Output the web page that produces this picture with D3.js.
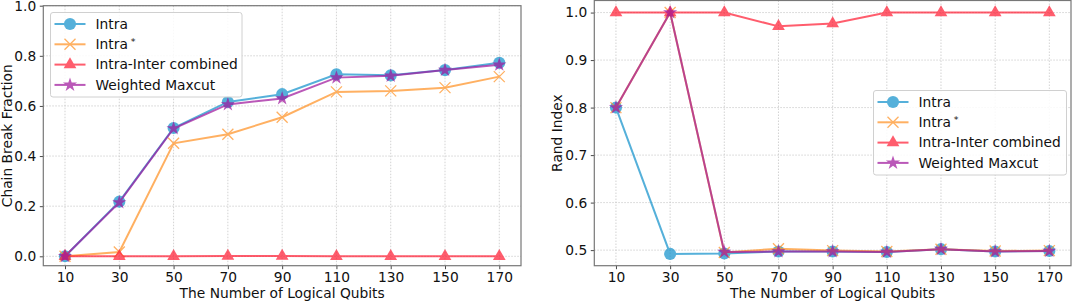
<!DOCTYPE html>
<html>
<head>
<meta charset="utf-8">
<script src="https://cdn.jsdelivr.net/npm/d3@7"></script>
<style>
  body { margin: 0; background: #fff; }
  text { font-family: "DejaVu Sans", sans-serif; }
</style>
</head>
<body>
<div id="chart"></div>
<script>
// Data
const qubits = [10, 30, 50, 70, 90, 110, 130, 150, 170]
const xTicks = [10, 30, 50, 70, 90, 110, 130, 150, 170]

// chain break fraction
const cbIntra = [0, 0.218, 0.512, 0.616, 0.647, 0.726, 0.722, 0.743, 0.772]
const cbIntraStar = [0, 0.017, 0.451, 0.487, 0.555, 0.656, 0.660, 0.673, 0.717]
const cbCombined = [0, 0, 0, 0.001, 0.001, 0, 0, 0, 0]
const cbMaxcut = [0, 0.215, 0.510, 0.606, 0.630, 0.713, 0.720, 0.743, 0.764]

// rand index
const riIntra = [0.8, 0.492, 0.493, 0.497, 0.497, 0.496, 0.502, 0.497, 0.498]
const riIntraStar = [0.8, 1.0, 0.495, 0.503, 0.499, 0.497, 0.502, 0.498, 0.499]
const riCombined = [1.0, 1.0, 1.0, 0.971, 0.977, 1.0, 1.0, 1.0, 1.0]
const riMaxcut = [0.8, 1.0, 0.496, 0.497, 0.497, 0.496, 0.502, 0.497, 0.498]

const cbTicks = [0.0, 0.2, 0.4, 0.6, 0.8, 1.0]
const riTicks = [0.5, 0.6, 0.7, 0.8, 0.9, 1.0]

const seriesNames = ['Intra', 'Intra*', 'Intra-Inter combined', 'Weighted Maxcut']
const seriesColors = ['#1593cc', '#ff9326', '#ff1f35', '#a0189e']
const seriesMarkers = ['circle', 'x', 'triangle', 'star']

function draw() {
  const width = 1072, height = 301
  const svg = d3.select('#chart').append('svg')
    .attr('width', width)
    .attr('height', height)

  const markerPath = {
    circle: d3.symbol(d3.symbolCircle, 115)(),
    triangle: d3.symbol(d3.symbolTriangle, 70)(),
    star: d3.symbol(d3.symbolStar, 62)(),
    x: 'M-5.5,-5.5L5.5,5.5M-5.5,5.5L5.5,-5.5'
  }

  function drawMarker(g, type, color) {
    const p = g.append('path').attr('d', markerPath[type])
    if (type === 'x') {
      p.attr('fill', 'none').attr('stroke', color).attr('stroke-width', 1.3)
    } else {
      p.attr('fill', color)
    }
    return p
  }

  function panel(opts) {
    const x = d3.scaleLinear().domain([2, 178]).range([opts.left, opts.right])
    const y = d3.scaleLinear().domain(opts.yDomain).range([opts.bottom, opts.top])
    const g = svg.append('g')

    // grid
    g.append('g').selectAll('line.vg').data(xTicks).join('line')
      .attr('x1', d => x(d)).attr('x2', d => x(d))
      .attr('y1', opts.top).attr('y2', opts.bottom)
      .attr('stroke', '#c8c8c8').attr('stroke-width', 0.8)
      .attr('stroke-dasharray', '1.5,1.5')
    g.append('g').selectAll('line.hg').data(opts.yTicks).join('line')
      .attr('x1', opts.left).attr('x2', opts.right)
      .attr('y1', d => y(d)).attr('y2', d => y(d))
      .attr('stroke', '#c8c8c8').attr('stroke-width', 0.8)
      .attr('stroke-dasharray', '1.5,1.5')

    // series
    const line = d3.line().x((d, i) => x(qubits[i])).y(d => y(d))
    opts.series.forEach((vals, si) => {
      const sg = g.append('g').attr('opacity', 0.72)
      sg.append('path').datum(vals)
        .attr('d', line)
        .attr('fill', 'none')
        .attr('stroke', seriesColors[si])
        .attr('stroke-width', 2)
      vals.forEach((v, i) => {
        drawMarker(sg, seriesMarkers[si], seriesColors[si])
          .attr('transform', `translate(${x(qubits[i])},${y(v)})`)
      })
    })

    // axes
    const xAxis = g.append('g')
      .attr('transform', `translate(0,${opts.bottom})`)
      .call(d3.axisBottom(x).tickValues(xTicks).tickSize(3.5).tickPadding(3.5))
    const yAxis = g.append('g')
      .attr('transform', `translate(${opts.left},0)`)
      .call(d3.axisLeft(y).tickValues(opts.yTicks).tickFormat(d3.format('.1f')).tickSize(3.5).tickPadding(3.5))
    ;[xAxis, yAxis].forEach(a => {
      a.select('.domain').remove()
      a.selectAll('.tick line').attr('stroke', '#333').attr('stroke-width', 0.9)
      a.selectAll('.tick text')
        .attr('font-family', '"DejaVu Sans", sans-serif')
        .attr('font-size', 13.8)
        .attr('fill', '#111')
    })

    // spines
    g.append('rect')
      .attr('x', opts.left).attr('y', opts.top)
      .attr('width', opts.right - opts.left)
      .attr('height', opts.bottom - opts.top)
      .attr('fill', 'none').attr('stroke', '#777').attr('stroke-width', 1.2)

    // labels
    g.append('text')
      .attr('x', (opts.left + opts.right) / 2).attr('y', 298)
      .attr('text-anchor', 'middle')
      .attr('font-size', 13.8).attr('fill', '#111')
      .text('The Number of Logical Qubits')
    g.append('text')
      .attr('transform', `translate(${opts.yLabelX},${(opts.top + opts.bottom) / 2}) rotate(-90)`)
      .attr('text-anchor', 'middle')
      .attr('dy', '0.35em')
      .attr('font-size', 13.8).attr('fill', '#111')
      .text(opts.yLabel)

    // legend
    const lg = g.append('g').attr('transform', `translate(${opts.legend[0]},${opts.legend[1]})`)
    lg.append('rect')
      .attr('width', opts.legend[2]).attr('height', 84.5)
      .attr('rx', 2.5)
      .attr('fill', '#fff').attr('fill-opacity', 0.85)
      .attr('stroke', '#d0d0d0').attr('stroke-width', 1)
    seriesNames.forEach((name, i) => {
      const row = lg.append('g').attr('transform', `translate(0,${11.5 + i * 20.3})`)
      const hg = row.append('g').attr('opacity', 0.72)
      hg.append('line').attr('x1', 4).attr('x2', 35)
        .attr('stroke', seriesColors[i]).attr('stroke-width', 2)
      drawMarker(hg, seriesMarkers[i], seriesColors[i]).attr('transform', 'translate(19.5,0)')
      const t = row.append('text').attr('x', 45).attr('dy', '0.35em')
        .attr('font-size', 13.8).attr('fill', '#111')
      if (name === 'Intra*') {
        t.append('tspan').text('Intra')
        t.append('tspan').attr('dx', 3).attr('dy', '-0.45em').attr('font-size', 9.5).text('*')
      } else {
        t.text(name)
      }
    })
  }

  panel({
    left: 43.3, right: 521, top: 5.7, bottom: 265.7,
    yDomain: [-0.0375, 1.0], yTicks: cbTicks,
    series: [cbIntra, cbIntraStar, cbCombined, cbMaxcut],
    yLabel: 'Chain Break Fraction', yLabelX: 7.5,
    legend: [50.5, 12.5, 191.5]
  })
  panel({
    left: 594.3, right: 1071, top: 0.5, bottom: 265.7,
    yDomain: [0.4672, 1.0254], yTicks: riTicks,
    series: [riIntra, riIntraStar, riCombined, riMaxcut],
    yLabel: 'Rand Index', yLabelX: 557,
    legend: [873.5, 90.5, 193]
  })
}

draw()
</script>
</body>
</html>
